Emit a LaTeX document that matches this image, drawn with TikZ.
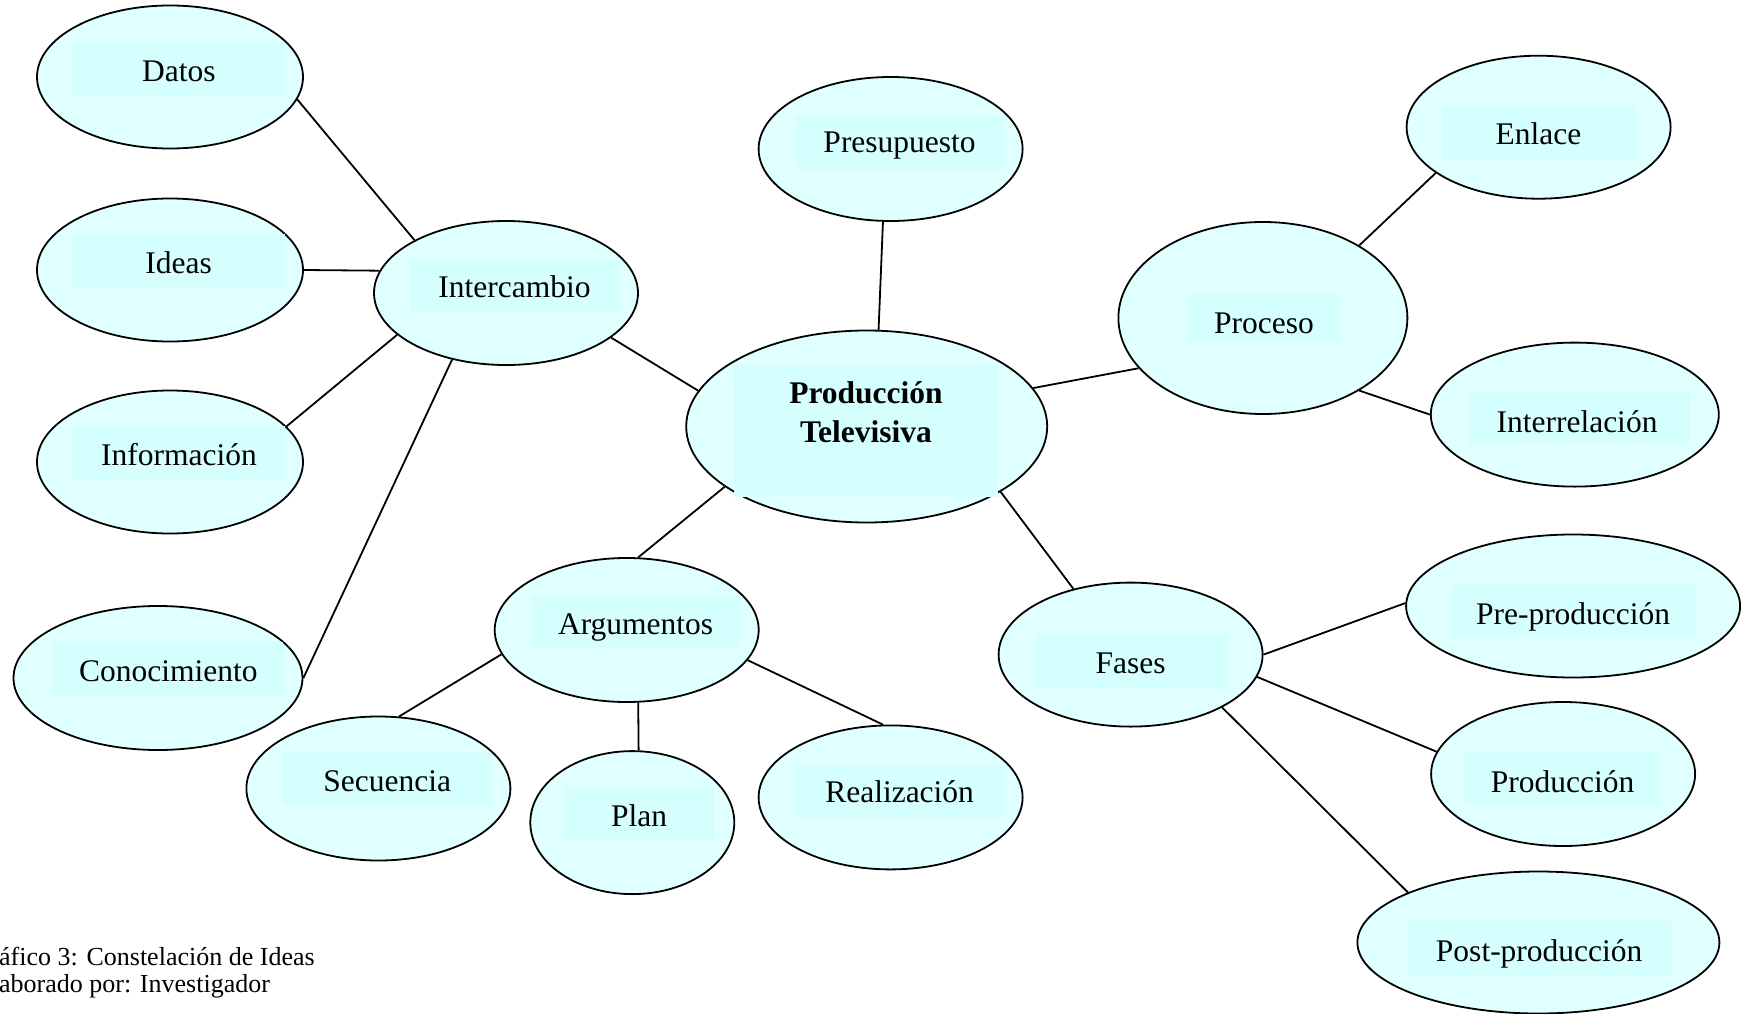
\documentclass[tikz,border=0pt]{standalone}
\usepackage{fontspec}
\setmainfont{Liberation Serif}
\usetikzlibrary{shapes.geometric}
\definecolor{ellfill}{RGB}{224,255,255}
\definecolor{boxfill}{RGB}{213,255,255}
\tikzset{
  bubble/.style={ellipse, draw=black, line width=1.8pt, fill=ellfill, inner sep=0pt},
  tag/.style={anchor=base, inner sep=0pt, font=\fontsize{31.5}{38}\selectfont},
  link/.style={line width=1.8pt},
  caption/.style={anchor=base west, inner sep=0pt, font=\fontsize{26}{30}\selectfont}
}
\begin{document}
\begin{tikzpicture}[x=1pt,y=-1pt]
\useasboundingbox (0,0) rectangle (1750,1014);
\clip (0,0) rectangle (1750,1014);

% ellipses
\node[bubble, minimum width=266pt, minimum height=143pt] (datos)  at (170,77)      {};
\node[bubble, minimum width=266pt, minimum height=143pt] (ideas)  at (170,270)     {};
\node[bubble, minimum width=266pt, minimum height=143pt] (info)   at (170,462)     {};
\node[bubble, minimum width=289pt, minimum height=144pt] (conoc)  at (158,678)     {};
\node[bubble, minimum width=264pt, minimum height=144pt] (inter)  at (506,293)     {};
\node[bubble, minimum width=264pt, minimum height=144pt] (presu)  at (890.6,149)   {};
\node[bubble, minimum width=361pt, minimum height=192pt] (prod)   at (866.7,426.5) {};
\node[bubble, minimum width=289pt, minimum height=192pt] (proc)   at (1262.9,318)  {};
\node[bubble, minimum width=264pt, minimum height=143pt] (enl)    at (1538.6,127.2){};
\node[bubble, minimum width=288pt, minimum height=144pt] (interr) at (1574.8,414.6){};
\node[bubble, minimum width=264pt, minimum height=144pt] (arg)    at (626.7,630)   {};
\node[bubble, minimum width=264pt, minimum height=144pt] (sec)    at (378.4,788.5) {};
\node[bubble, minimum width=204pt, minimum height=143pt] (plan)   at (632.3,822.6) {};
\node[bubble, minimum width=264pt, minimum height=144pt] (real)   at (890.6,797.4) {};
\node[bubble, minimum width=264pt, minimum height=144pt] (fases)  at (1130.6,654.6){};
\node[bubble, minimum width=334pt, minimum height=143pt] (pre)    at (1573.1,606)  {};
\node[bubble, minimum width=264pt, minimum height=144pt] (prodn)  at (1563.1,774)  {};
\node[bubble, minimum width=362pt, minimum height=142pt] (post)   at (1538.4,942.5){};

% connectors
\draw[link] (datos.-10.6) -- (inter.150.5);
\draw[link] (ideas.0) -- (inter.170);
\draw[link] (info.17.6) -- (inter.201);
\draw[link] (conoc.0.6) -- (inter.231);
\draw[link] (inter.-23) -- (prod.168.5);
\draw[link] (presu.-96) -- (prod.83);
\draw[link] (prod.13) -- (proc.202);
\draw[link] (proc.37) -- (enl.204);
\draw[link] (proc.-37) -- (interr.180);
\draw[link] (prod.203) -- (arg.81);
\draw[link] (prod.-26) -- (fases.131);
\draw[link] (arg.191) -- (sec.74.5);
\draw[link] (arg.-81) -- (plan.85);
\draw[link] (arg.-14.5) -- (real.96);
\draw[link] (fases.0.7) -- (pre.179.2);
\draw[link] (fases.-10.3) -- (prodn.170);
\draw[link] (fases.-30) -- (post.159);

% text boxes behind the labels
\fill[boxfill] (72.7,41.7)    rectangle (285,96.7);
\fill[boxfill] (72.5,234)     rectangle (284.6,289);
\fill[boxfill] (73,426)       rectangle (285,481);
\fill[boxfill] (53.3,641.7)   rectangle (283.3,696);
\fill[boxfill] (409.6,259)    rectangle (619.4,313);
\fill[boxfill] (794.7,115)    rectangle (1004.5,169.6);
\fill[boxfill] (734,365)      rectangle (998,497);
\fill[boxfill] (1187.5,294)   rectangle (1340.4,342.3);
\fill[boxfill] (1442,106)     rectangle (1635,159.6);
\fill[boxfill] (1469.3,392.3) rectangle (1690,444.3);
\fill[boxfill] (531.3,595)    rectangle (740,649);
\fill[boxfill] (282.4,753.4)  rectangle (492.2,805.8);
\fill[boxfill] (563.6,788)    rectangle (714.3,839.3);
\fill[boxfill] (794.7,765.6)  rectangle (1004.5,818);
\fill[boxfill] (1034.6,634)   rectangle (1226.6,688.6);
\fill[boxfill] (1451,584.8)   rectangle (1695.3,638.4);
\fill[boxfill] (1465.4,751)   rectangle (1659.6,804.7);
\fill[boxfill] (1406.7,921)   rectangle (1671.7,975);

% labels
\node[tag] (tDatos)  at (178.8,81.7)  {Datos};
\node[tag] (tIdeas)  at (178.6,273)   {Ideas};
\node[tag] (tInfo)   at (179,465)     {Información};
\node[tag] (tConoc)  at (168.3,681)   {Conocimiento};
\node[tag] (tInter)  at (514.5,297.5) {Intercambio};
\node[tag] (tPresu)  at (899.6,153)   {Presupuesto};
\node[tag, font=\fontsize{31.5}{38}\selectfont\bfseries] (tProd1) at (866,403) {Producción};
\node[tag, font=\fontsize{31.5}{38}\selectfont\bfseries] (tProd2) at (866,442) {Televisiva};
\node[tag] (tProc)   at (1264,333.5)  {Proceso};
\node[tag] (tEnl)    at (1538.5,145)  {Enlace};
\node[tag] (tInterr) at (1577,432.7)  {Interrelación};
\node[tag] (tArg)    at (635.6,634)   {Argumentos};
\node[tag] (tSec)    at (387.3,791.6) {Secuencia};
\node[tag] (tPlan)   at (639,826.6)   {Plan};
\node[tag] (tReal)   at (899.6,802)   {Realización};
\node[tag] (tFases)  at (1130.6,673)  {Fases};
\node[tag] (tPre)    at (1573.1,624.6){Pre-producción};
\node[tag] (tProdn)  at (1562.5,792)  {Producción};
\node[tag] (tPost)   at (1539.2,961)  {Post-producción};

% caption
\node[caption] (cap1) at (-1,965) {áfico 3: Constelación de Ideas};
\node[caption] (cap2) at (-1,992) {aborado por: Investigador};
\end{tikzpicture}
\end{document}
